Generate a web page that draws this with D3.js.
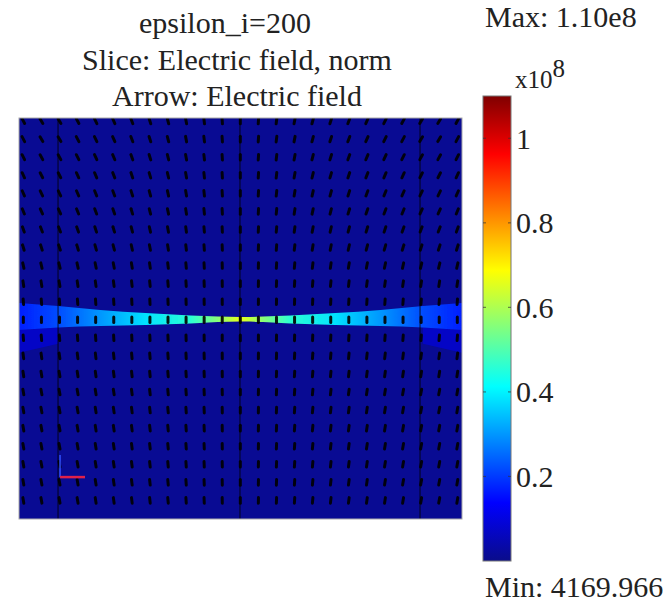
<!DOCTYPE html>
<html>
<head>
<meta charset="utf-8">
<script src="https://cdn.jsdelivr.net/npm/d3@7"></script>
<style>
  body { margin: 0; background: #fff; }
</style>
</head>
<body>
<svg width="667" height="605"></svg>
<script>
// Chart values
var titleLines = ["epsilon_i=200", "Slice: Electric field, norm", "Arrow: Electric field"];
var vMin = 4169.966 / 1e8;
var vMax = 1.10;
var barTicks = [0.2, 0.4, 0.6, 0.8, 1];

// jet colour map (fraction of max -> colour)
var jetStops = [0, 0.125, 0.375, 0.625, 0.875, 1];
var jetColors = ["#0a0c8a", "#0000ff", "#00ffff", "#ffff00", "#ff0000", "#800000"];

// field background and band (x, y in grid units; values in 1e8 V/m)
var bgValue = 0.01;
var bandX      = [0, 2.16, 4.5, 7, 9.5, 11, 12.25, 13.5, 15, 17.5, 20, 22.34, 24.5];
var bandTop    = [10.24, 10.41, 10.63, 10.80, 10.93, 10.99, 11.02, 10.99, 10.93, 10.80, 10.63, 10.41, 10.24];
var bandBottom = [11.74, 11.60, 11.52, 11.46, 11.38, 11.30, 11.27, 11.30, 11.38, 11.46, 11.52, 11.60, 11.74];
var bandValue  = [0.17, 0.22, 0.30, 0.38, 0.46, 0.56, 0.66, 0.56, 0.46, 0.38, 0.30, 0.22, 0.17];
// bright core along the gap
var coreX     = [6.5, 9, 11, 12.25, 13.5, 15.5, 18];
var coreValue = [0.36, 0.46, 0.6, 0.68, 0.6, 0.46, 0.36];
var coreY = 11.15;
var edgeValue = 0.09;
var boundaryX = [2.16, 12.22, 22.18];

// arrow grid: tilt per column (deg, + leans right) and weight per row
var arrowCols = d3.range(25);
var arrowRows = d3.range(22);
var colTilt = [-28, -30, -30, -28, -26, -24, -21, -18, -15, -11, -7, -4, 0,
               4, 7, 11, 15, 18, 21, 24, 26, 28, 30, 30, 28];
var rowWeight = [1, 1, 0.95, 0.9, 0.85, 0.8, 0.7, 0.6, 0.45, 0.3, 0.15, 0,
                 0.15, 0.25, 0.3, 0.35, 0.35, 0.35, 0.35, 0.35, 0.35, 0.35];

var serif = "Liberation Serif";
var svg = d3.select("svg");

var x = d3.scaleLinear().domain([0, 24.5]).range([19, 462]);
var y = d3.scaleLinear().domain([0, 22.2]).range([118, 519]);
var jet = d3.scaleLinear().domain(jetStops.map(t => t * vMax)).range(jetColors).clamp(true);

// title
svg.selectAll(".title")
    .data(titleLines)
    .enter().append("text")
    .attr("class", "title")
    .attr("x", (d, i) => i === 0 ? 225 : 237)
    .attr("y", (d, i) => 33 + i * 36.5)
    .attr("text-anchor", "middle")
    .attr("font-family", serif)
    .attr("font-size", 30)
    .attr("fill", "#222")
    .text(d => d);

var defs = svg.append("defs");
var clip = defs.append("clipPath").attr("id", "plotclip");
clip.append("rect").attr("x", x(0)).attr("y", y(0))
    .attr("width", x(24.5) - x(0)).attr("height", y(22.2) - y(0));

defs.append("filter").attr("id", "soft")
    .append("feGaussianBlur").attr("stdDeviation", 0.7);

var plot = svg.append("g").attr("clip-path", "url(#plotclip)");

// background slice
plot.append("rect")
    .attr("x", x(0)).attr("y", y(0))
    .attr("width", x(24.5) - x(0)).attr("height", y(22.2) - y(0))
    .style("fill", jet(bgValue));

// lighter patches under the band at both outer strips
var edgePatches = [
    [[0, 11.74], [2.16, 11.6], [2.16, 12.5], [0, 13.0]],
    [[24.5, 11.74], [22.34, 11.6], [22.34, 12.5], [24.5, 13.0]]
];
plot.selectAll(".edge")
    .data(edgePatches)
    .enter().append("path")
    .attr("class", "edge")
    .attr("d", d => d3.line().x(p => x(p[0])).y(p => y(p[1]))(d) + "Z")
    .style("fill", jet(edgeValue))
    .style("opacity", 0.75);

// band gradient
var grad = defs.append("linearGradient")
    .attr("id", "bandgrad")
    .attr("gradientUnits", "userSpaceOnUse")
    .attr("x1", x(0)).attr("x2", x(24.5)).attr("y1", 0).attr("y2", 0);
grad.selectAll("stop")
    .data(bandX)
    .enter().append("stop")
    .attr("offset", d => d / 24.5)
    .attr("stop-color", (d, i) => jet(bandValue[i]));

var bandArea = d3.area()
    .x((d, i) => x(bandX[i]))
    .y0((d, i) => y(bandTop[i]))
    .y1((d, i) => y(bandBottom[i]))
    .curve(d3.curveMonotoneX);

plot.append("path")
    .attr("d", bandArea(bandX))
    .style("fill", "url(#bandgrad)")
    .attr("filter", "url(#soft)");

// core of the gap
var coreGrad = defs.append("linearGradient")
    .attr("id", "coregrad")
    .attr("gradientUnits", "userSpaceOnUse")
    .attr("x1", x(coreX[0])).attr("x2", x(coreX[coreX.length - 1])).attr("y1", 0).attr("y2", 0);
coreGrad.selectAll("stop")
    .data(coreX)
    .enter().append("stop")
    .attr("offset", d => (d - coreX[0]) / (coreX[coreX.length - 1] - coreX[0]))
    .attr("stop-color", (d, i) => jet(coreValue[i]))
    .attr("stop-opacity", (d, i) => i === 0 || i === coreX.length - 1 ? 0 : 1);
plot.append("line")
    .attr("x1", x(coreX[0])).attr("x2", x(coreX[coreX.length - 1]))
    .attr("y1", y(coreY)).attr("y2", y(coreY))
    .style("stroke", "url(#coregrad)")
    .style("stroke-width", 2.5)
    .attr("filter", "url(#soft)");

// subdomain boundaries
plot.selectAll(".bound")
    .data(boundaryX)
    .enter().append("line")
    .attr("x1", d => x(d)).attr("x2", d => x(d))
    .attr("y1", y(0)).attr("y2", y(22.2))
    .style("stroke", "#000")
    .style("stroke-width", 1.6)
    .style("opacity", 0.5);

// arrows
var arrowData = [];
arrowRows.forEach(function(r) {
    arrowCols.forEach(function(c) {
        arrowData.push({ c: c, r: r, a: colTilt[c] * rowWeight[r] });
    });
});
var half = 2.8;
plot.append("g").attr("filter", "url(#soft)")
    .selectAll(".arrow")
    .data(arrowData)
    .enter().append("line")
    .attr("class", "arrow")
    .attr("transform", d => "translate(" + x(d.c + 0.24) + "," + y(d.r + 0.17) + ") rotate(" + d.a + ")")
    .attr("x1", 0).attr("x2", 0)
    .attr("y1", -half).attr("y2", half)
    .style("stroke", "#000")
    .style("stroke-width", 3)
    .style("stroke-linecap", "round")
    .style("opacity", 0.9);

// axis indicator
plot.append("line")
    .attr("x1", x(2.27)).attr("x2", x(2.27))
    .attr("y1", y(18.66)).attr("y2", y(19.88))
    .style("stroke", "#3050ff").style("stroke-width", 1.5);
plot.append("line")
    .attr("x1", x(2.27)).attr("x2", x(3.65))
    .attr("y1", y(19.88)).attr("y2", y(19.88))
    .style("stroke", "#e0204a").style("stroke-width", 2.5);

// plot frame
svg.append("rect")
    .attr("x", x(0)).attr("y", y(0))
    .attr("width", x(24.5) - x(0)).attr("height", y(22.2) - y(0))
    .style("fill", "none").style("stroke", "#aaa").style("stroke-width", 1);

// colour bar
var cb = d3.scaleLinear().domain([vMin, vMax]).range([561, 96]);
var cbGrad = defs.append("linearGradient")
    .attr("id", "cbgrad")
    .attr("x1", 0).attr("x2", 0).attr("y1", 1).attr("y2", 0);
cbGrad.selectAll("stop")
    .data(jetStops)
    .enter().append("stop")
    .attr("offset", d => d)
    .attr("stop-color", (d, i) => jetColors[i]);

var cbX = 483, cbW = 28;
svg.append("rect")
    .attr("x", cbX).attr("y", cb(vMax))
    .attr("width", cbW).attr("height", cb(vMin) - cb(vMax))
    .style("fill", "url(#cbgrad)")
    .style("stroke", "#777").style("stroke-width", 1);

var cbTicks = svg.selectAll(".cbtick")
    .data(barTicks)
    .enter().append("g")
    .attr("transform", d => "translate(0," + cb(d) + ")");
cbTicks.append("line").attr("x1", cbX).attr("x2", cbX + 3)
    .style("stroke", "#333").style("stroke-width", 1.2).style("opacity", 0.6);
cbTicks.append("line").attr("x1", cbX + cbW - 3).attr("x2", cbX + cbW)
    .style("stroke", "#333").style("stroke-width", 1.2).style("opacity", 0.6);
cbTicks.append("text")
    .attr("x", 516).attr("dy", "0.35em")
    .attr("font-family", serif)
    .attr("font-size", 30)
    .attr("fill", "#222")
    .text(d => d);

svg.append("text").attr("x", 485).attr("y", 27)
    .attr("font-family", serif).attr("font-size", 30).attr("fill", "#222")
    .text("Max: 1.10e8");
svg.append("text").attr("x", 485).attr("y", 597)
    .attr("font-family", serif).attr("font-size", 30).attr("fill", "#222")
    .text("Min: 4169.966");
var mult = svg.append("text").attr("x", 515).attr("y", 88)
    .attr("font-family", serif).attr("font-size", 25).attr("fill", "#222");
mult.append("tspan").text("x10");
mult.append("tspan").attr("dy", -11).text("8");
</script>
</body>
</html>
